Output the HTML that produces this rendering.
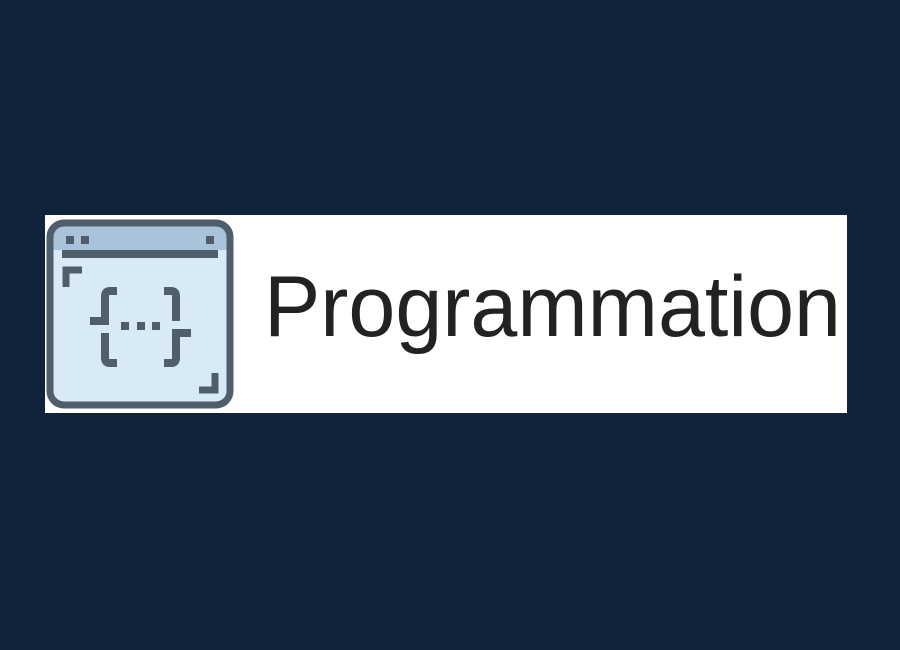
<!DOCTYPE html>
<html><head><style>
html,body{margin:0;padding:0;background:#10233b;width:900px;height:650px;overflow:hidden}
</style></head><body>
<svg width="900" height="650" xmlns="http://www.w3.org/2000/svg">
<rect x="0" y="0" width="900" height="650" fill="#10233b"/>
<rect x="45" y="215" width="802" height="198" fill="#ffffff"/>
<rect x="50" y="223" width="180" height="182" rx="14" fill="#d8eaf5"/>
<path d="M50 250 V237 Q50 223 64 223 H216 Q230 223 230 237 V250 Z" fill="#a9c4da"/>
<rect x="50" y="223" width="180" height="182" rx="14" fill="none" stroke="#505e6b" stroke-width="7"/>
<rect x="62" y="250" width="156" height="8" fill="#505e6b"/>
<rect x="66" y="236" width="8" height="8" fill="#505e6b"/>
<rect x="81" y="236" width="8" height="8" fill="#505e6b"/>
<rect x="206" y="236" width="8" height="8" fill="#505e6b"/>
<path d="M66 287 V270 H82" fill="none" stroke="#505e6b" stroke-width="7"/>
<path d="M215 373 V390 H199" fill="none" stroke="#505e6b" stroke-width="7"/>
<g fill="none" stroke="#505e6b" stroke-width="8">
<path d="M117 291 H110 Q105 291 105 296 V321 H90"/>
<path d="M105 333 V358 Q105 363 110 363 H117"/>
<path d="M164 291 H171 Q176 291 176 296 V321"/>
<path d="M191 333 H176 V358 Q176 363 171 363 H164"/>
</g>
<rect x="121" y="322" width="8" height="8" fill="#505e6b"/>
<rect x="137" y="322" width="8" height="8" fill="#505e6b"/>
<rect x="152" y="322" width="8" height="8" fill="#505e6b"/>
<text x="264" y="336" font-family="Liberation Sans, sans-serif" font-size="86" fill="#222222" textLength="577" lengthAdjust="spacingAndGlyphs">Programmation</text>
</svg>
</body></html>
